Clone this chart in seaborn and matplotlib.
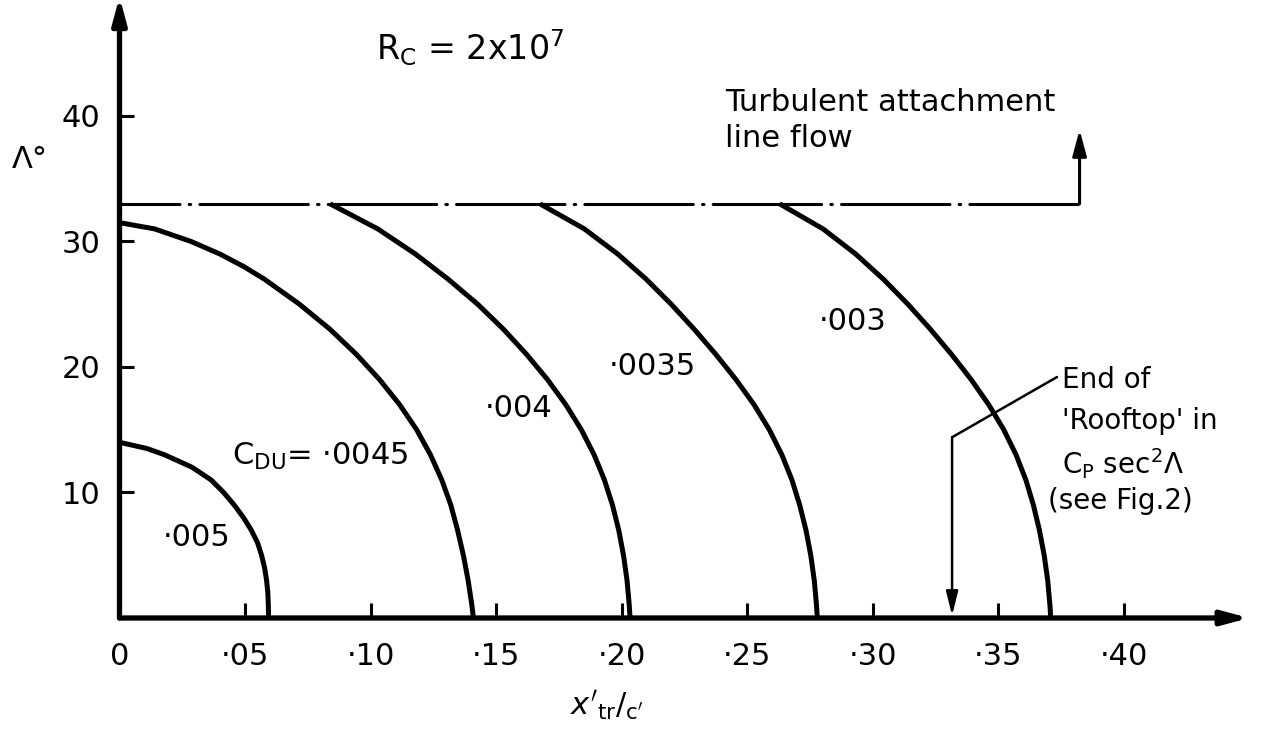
import matplotlib
matplotlib.use("Agg")
import matplotlib.pyplot as plt
import seaborn as sns
import pandas as pd

# ---------------- data ----------------
x_ticks = [0.0, 0.05, 0.10, 0.15, 0.20, 0.25, 0.30, 0.35, 0.40]
x_tick_labels = ["0", "·05", "·10", "·15", "·20", "·25", "·30", "·35", "·40"]
y_ticks = [10, 20, 30, 40]
y_tick_labels = ["10", "20", "30", "40"]

cdu_005_x = [0.0, 0.011, 0.018, 0.029, 0.0365, 0.0415, 0.0457, 0.0494, 0.0525, 0.0550,
             0.0566, 0.0578, 0.0586, 0.0591, 0.0593, 0.0594]
cdu_005_y = [14.0, 13.5, 13.0, 12.0, 11.0, 10.0, 9.0, 8.0, 7.0, 6.0,
             5.0, 4.0, 3.0, 2.0, 1.0, 0.0]

cdu_0045_x = [0.0, 0.014, 0.0285, 0.040, 0.0495, 0.0577, 0.0717, 0.0839, 0.0944, 0.1036,
              0.1116, 0.1184, 0.1239, 0.1284, 0.1320, 0.1347, 0.1370, 0.1389, 0.1404, 0.1410]
cdu_0045_y = [31.5, 31.0, 30.0, 29.0, 28.0, 27.0, 25.0, 23.0, 21.0, 19.0,
              17.0, 15.0, 13.0, 11.0, 9.0, 7.0, 5.0, 3.0, 1.0, 0.0]

cdu_004_x = [0.0839, 0.1029, 0.1179, 0.1309, 0.1427, 0.1530, 0.1622, 0.1705, 0.1778, 0.1840,
             0.1891, 0.1932, 0.1964, 0.1989, 0.2008, 0.2022, 0.2031, 0.2034]
cdu_004_y = [33.0, 31.0, 29.0, 27.0, 25.0, 23.0, 21.0, 19.0, 17.0, 15.0,
             13.0, 11.0, 9.0, 7.0, 5.0, 3.0, 1.0, 0.0]

cdu_0035_x = [0.1675, 0.1852, 0.1985, 0.2098, 0.2198, 0.2290, 0.2376, 0.2456, 0.2528, 0.2589,
              0.2639, 0.2679, 0.2710, 0.2735, 0.2754, 0.2768, 0.2777, 0.2780]
cdu_0035_y = [33.0, 31.0, 29.0, 27.0, 25.0, 23.0, 21.0, 19.0, 17.0, 15.0,
              13.0, 11.0, 9.0, 7.0, 5.0, 3.0, 1.0, 0.0]

cdu_003_x = [0.2630, 0.2803, 0.2933, 0.3043, 0.3141, 0.3231, 0.3315, 0.3393, 0.3463, 0.3523,
             0.3572, 0.3611, 0.3641, 0.3665, 0.3684, 0.3698, 0.3707, 0.3710]
cdu_003_y = [33.0, 31.0, 29.0, 27.0, 25.0, 23.0, 21.0, 19.0, 17.0, 15.0,
             13.0, 11.0, 9.0, 7.0, 5.0, 3.0, 1.0, 0.0]

turb_line_x = [0.0, 0.3825]
turb_line_y = [33.0, 33.0]

curves = [
    ("·005", cdu_005_x, cdu_005_y),
    ("·0045", cdu_0045_x, cdu_0045_y),
    ("·004", cdu_004_x, cdu_004_y),
    ("·0035", cdu_0035_x, cdu_0035_y),
    ("·003", cdu_003_x, cdu_003_y),
]

# ---------------- style ----------------
sns.set_theme(style="white")
plt.rcParams["font.family"] = ["DejaVu Sans"]
plt.rcParams["mathtext.fontset"] = "dejavusans"
plt.rcParams["text.color"] = "black"

W, H = 1279, 742
fig = plt.figure(figsize=(W / 100, H / 100), dpi=100)
ax = fig.add_axes([119.5 / W, 124 / H, 1129.5 / W, 615 / H])
ax.set_xlim(0, 0.45)
ax.set_ylim(0, 49)

for sp in ax.spines.values():
    sp.set_visible(False)

# curves
for name, xs, ys in curves:
    df = pd.DataFrame({"x": xs, "y": ys})
    sns.lineplot(data=df, x="x", y="y", sort=False, estimator=None,
                 color="black", lw=3.6, ax=ax, solid_capstyle="butt",
                 solid_joinstyle="round")

# dash-dot boundary line
df_t = pd.DataFrame({"x": turb_line_x, "y": turb_line_y})
sns.lineplot(data=df_t, x="x", y="y", sort=False, estimator=None, color="black",
             lw=2.2, ax=ax, linestyle=(15.7, (35.5, 3, 0.5, 3)), dash_capstyle="round")

arrow_kw = dict(color="black", shrinkA=0, shrinkB=0)
# axes as arrows
ax.annotate("", xy=(0.45, 0), xytext=(0, 0), xycoords="data",
            arrowprops=dict(arrowstyle="-|>,head_length=1.3,head_width=0.35", lw=3.8, **arrow_kw),
            annotation_clip=False)
ax.annotate("", xy=(0, 49.5), xytext=(0, 0), xycoords="data",
            arrowprops=dict(arrowstyle="-|>,head_length=1.3,head_width=0.35", lw=3.8, **arrow_kw),
            annotation_clip=False)

# arrow up from boundary line
ax.annotate("", xy=(0.3825, 38.9), xytext=(0.3825, 33.0),
            arrowprops=dict(arrowstyle="-|>,head_length=1.3,head_width=0.35", lw=2.2, **arrow_kw))

# rooftop pointer
ax.plot([0.3735, 0.3317], [19.2, 14.4], color="black", lw=1.8)
ax.annotate("", xy=(0.3317, 0.2), xytext=(0.3317, 14.4),
            arrowprops=dict(arrowstyle="-|>,head_length=1.2,head_width=0.3", lw=1.8, **arrow_kw))

# ticks
ax.set_xticks(x_ticks)
ax.set_xticklabels(x_tick_labels)
ax.set_yticks(y_ticks)
ax.set_yticklabels(y_tick_labels)
ax.tick_params(axis="x", direction="in", length=11, width=2.2, pad=17,
               labelsize=22, colors="black", bottom=True)
ax.tick_params(axis="y", direction="in", length=11, width=2.2, pad=14,
               labelsize=22, colors="black", left=True)
ax.xaxis.get_major_ticks()[0].tick1line.set_visible(False)
ax.set_xlabel("")
ax.set_ylabel("")

# labels and annotations
fs = 22
ax.text(-0.0357, 36.5, "Λ°", fontsize=fs, ha="center", va="center", clip_on=False)
ax.text(0.194, -7.0, r"$x'_{\mathrm{tr}}/_{\mathrm{c}'}$", fontsize=fs,
        ha="center", va="center", clip_on=False)
ax.text(0.1396, 45.4, r"R$_\mathregular{C}$ = 2x10$^\mathregular{7}$", fontsize=24,
        ha="center", va="center")
ax.text(0.2412, 40.4, "Turbulent attachment", fontsize=22, ha="left", va="baseline")
ax.text(0.2412, 37.5, "line flow", fontsize=22, ha="left", va="baseline")

fs2 = 20
ax.text(0.3755, 19.0, "End of", fontsize=fs2, ha="left", va="center")
ax.text(0.3755, 15.7, "'Rooftop' in", fontsize=fs2, ha="left", va="center")
ax.text(0.3755, 12.3, r"C$_\mathregular{P}$ sec$^\mathregular{2}$Λ", fontsize=fs2,
        ha="left", va="center")
ax.text(0.3700, 9.3, "(see Fig.2)", fontsize=fs2, ha="left", va="center")

ax.text(0.0309, 6.4, "·005", fontsize=fs, ha="center", va="center")
ax.text(0.080, 12.9, r"C$_\mathregular{DU}$= ·0045", fontsize=fs, ha="center", va="center")
ax.text(0.159, 16.7, "·004", fontsize=fs, ha="center", va="center")
ax.text(0.2122, 20.0, "·0035", fontsize=fs, ha="center", va="center")
ax.text(0.2922, 23.6, "·003", fontsize=fs, ha="center", va="center")

fig.savefig("out.png", dpi=100, facecolor="white")
